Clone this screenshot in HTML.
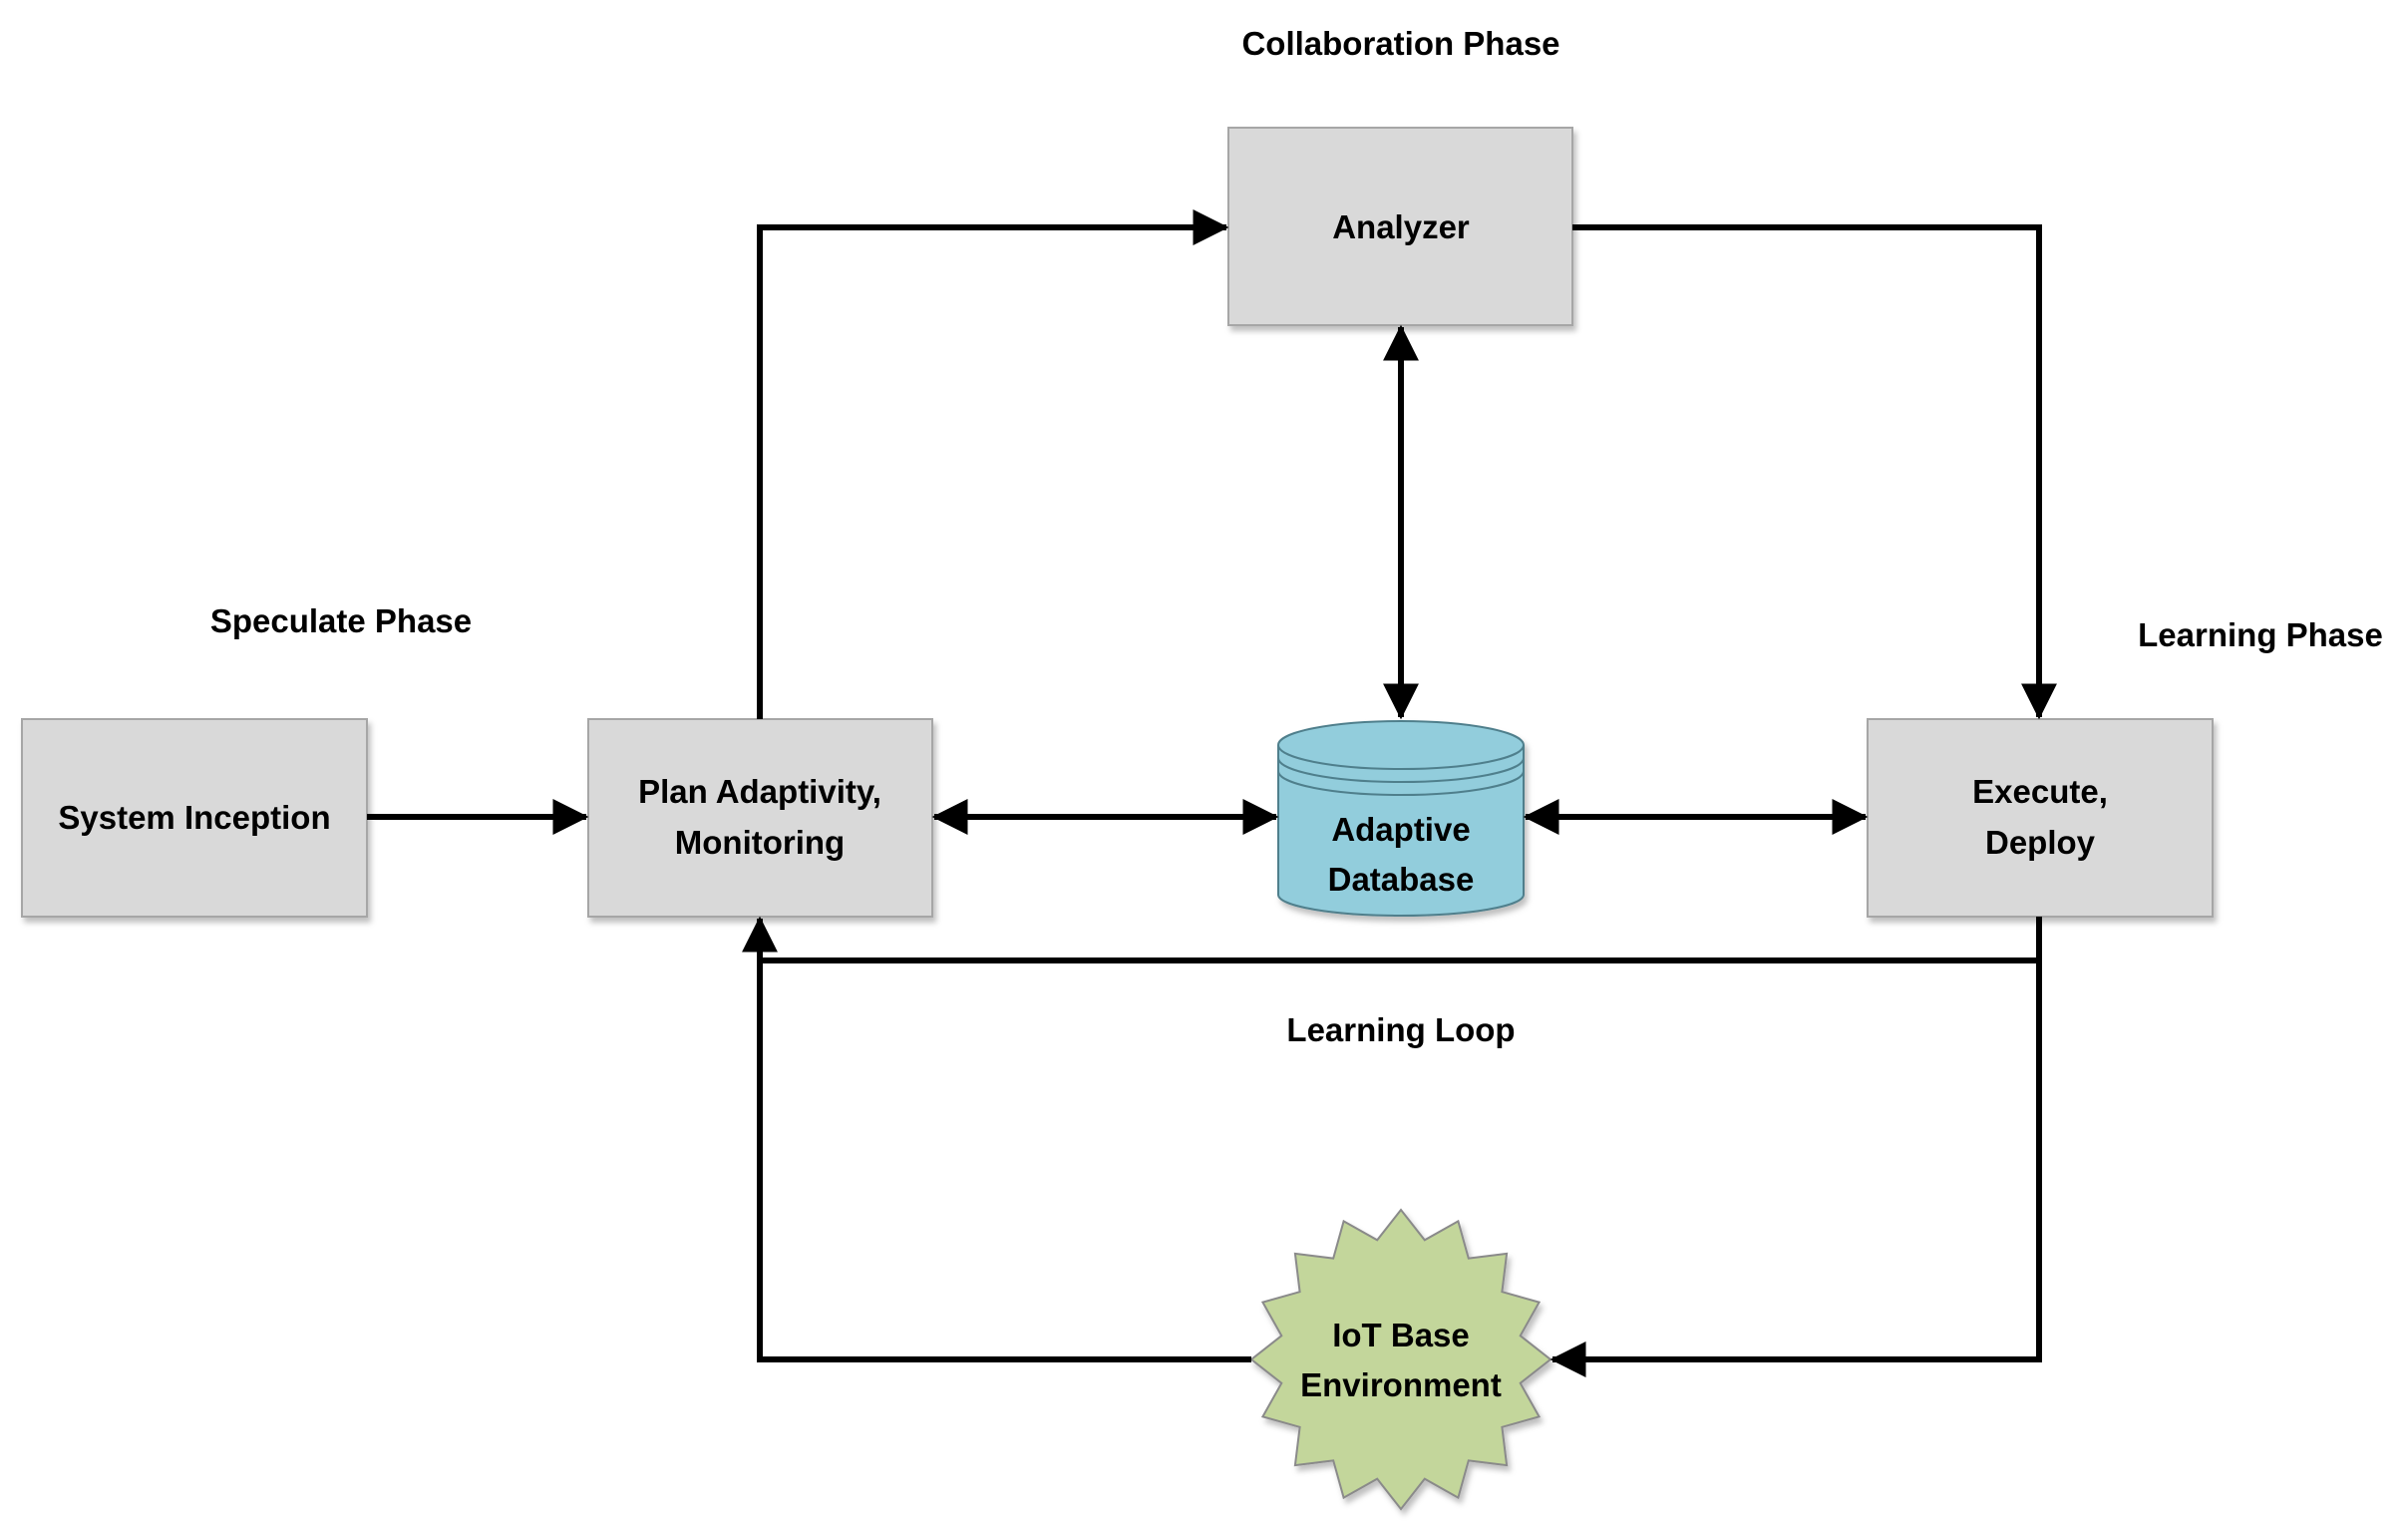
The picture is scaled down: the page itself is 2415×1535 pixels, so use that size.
<!DOCTYPE html>
<html><head><meta charset="utf-8"><style>
html,body{margin:0;padding:0;background:#fff;}
svg{display:block;}
text{font-family:"Liberation Sans",sans-serif;font-weight:bold;font-size:33px;fill:#000;text-anchor:middle;}
</style></head><body>
<svg width="2415" height="1535" viewBox="0 0 2415 1535" xmlns="http://www.w3.org/2000/svg">
<defs>
<marker id="a" markerWidth="6" markerHeight="6" refX="5.6" refY="3" orient="auto-start-reverse" markerUnits="strokeWidth">
<path d="M0,0 L6,3 L0,6 z" fill="#000"/>
</marker>
<filter id="sh" x="-10%" y="-10%" width="130%" height="130%"><feDropShadow dx="3" dy="5" stdDeviation="3" flood-color="#000" flood-opacity="0.25"/></filter>
</defs>

<!-- boxes -->
<g fill="#d9d9d9" stroke="#a6a6a6" stroke-width="2" filter="url(#sh)">
<rect x="22" y="721" width="346" height="198"/>
<rect x="590" y="721" width="345" height="198"/>
<rect x="1232" y="128" width="345" height="198"/>
<rect x="1873" y="721" width="346" height="198"/>
</g>

<!-- cylinder -->
<g stroke="#4f7f8c" stroke-width="2" fill="#92cddc" filter="url(#sh)">
<path d="M1282,747 L1282,897 A123,21 0 0 0 1528,897 L1528,747 A123,24 0 0 0 1282,747 Z"/>
</g>
<g stroke="#4f7f8c" stroke-width="2" fill="none">
<path d="M1282,747 A123,24 0 0 0 1528,747"/>
<path d="M1282,760 A123,24 0 0 0 1528,760"/>
<path d="M1282,773 A123,24 0 0 0 1528,773"/>
</g>

<!-- star -->
<polygon transform="translate(1405,1363)" fill="#c3d69b" stroke="#8a8a8a" stroke-width="2" filter="url(#sh)"
points="0,-150 23.8,-119.7 57.4,-138.6 67.8,-101.4 106.1,-106.1 101.4,-67.8 138.6,-57.4 119.7,-23.8 150,0 119.7,23.8 138.6,57.4 101.4,67.8 106.1,106.1 67.8,101.4 57.4,138.6 23.8,119.7 0,150 -23.8,119.7 -57.4,138.6 -67.8,101.4 -106.1,106.1 -101.4,67.8 -138.6,57.4 -119.7,23.8 -150,0 -119.7,-23.8 -138.6,-57.4 -101.4,-67.8 -106.1,-106.1 -67.8,-101.4 -57.4,-138.6 -23.8,-119.7"/>

<!-- connectors -->
<g stroke="#000" stroke-width="6" fill="none">
<path d="M762,721 L762,228 L1230,228" marker-end="url(#a)"/>
<path d="M1577,228 L2045,228 L2045,719" marker-end="url(#a)"/>
<path d="M1405,328 L1405,719" marker-start="url(#a)" marker-end="url(#a)"/>
<path d="M368,819 L588,819" marker-end="url(#a)"/>
<path d="M937,819 L1280,819" marker-start="url(#a)" marker-end="url(#a)"/>
<path d="M1530,819 L1871,819" marker-start="url(#a)" marker-end="url(#a)"/>
<path d="M2045,919 L2045,1363 L1557,1363" marker-end="url(#a)"/>
<path d="M2045,963 L762,963"/>
<path d="M1255,1363 L762,1363 L762,921" marker-end="url(#a)"/>
</g>

<!-- labels -->
<text x="1405" y="55">Collaboration Phase</text>
<text x="342" y="634">Speculate Phase</text>
<text x="2267" y="648">Learning Phase</text>
<text x="1405" y="1044">Learning Loop</text>
<text x="195" y="831">System Inception</text>
<text x="762" y="805">Plan Adaptivity,</text>
<text x="762" y="856">Monitoring</text>
<text x="1405" y="239">Analyzer</text>
<text x="2046" y="805">Execute,</text>
<text x="2046" y="856">Deploy</text>
<text x="1405" y="843">Adaptive</text>
<text x="1405" y="893">Database</text>
<text x="1405" y="1350">IoT Base</text>
<text x="1405" y="1400">Environment</text>
</svg>
</body></html>
